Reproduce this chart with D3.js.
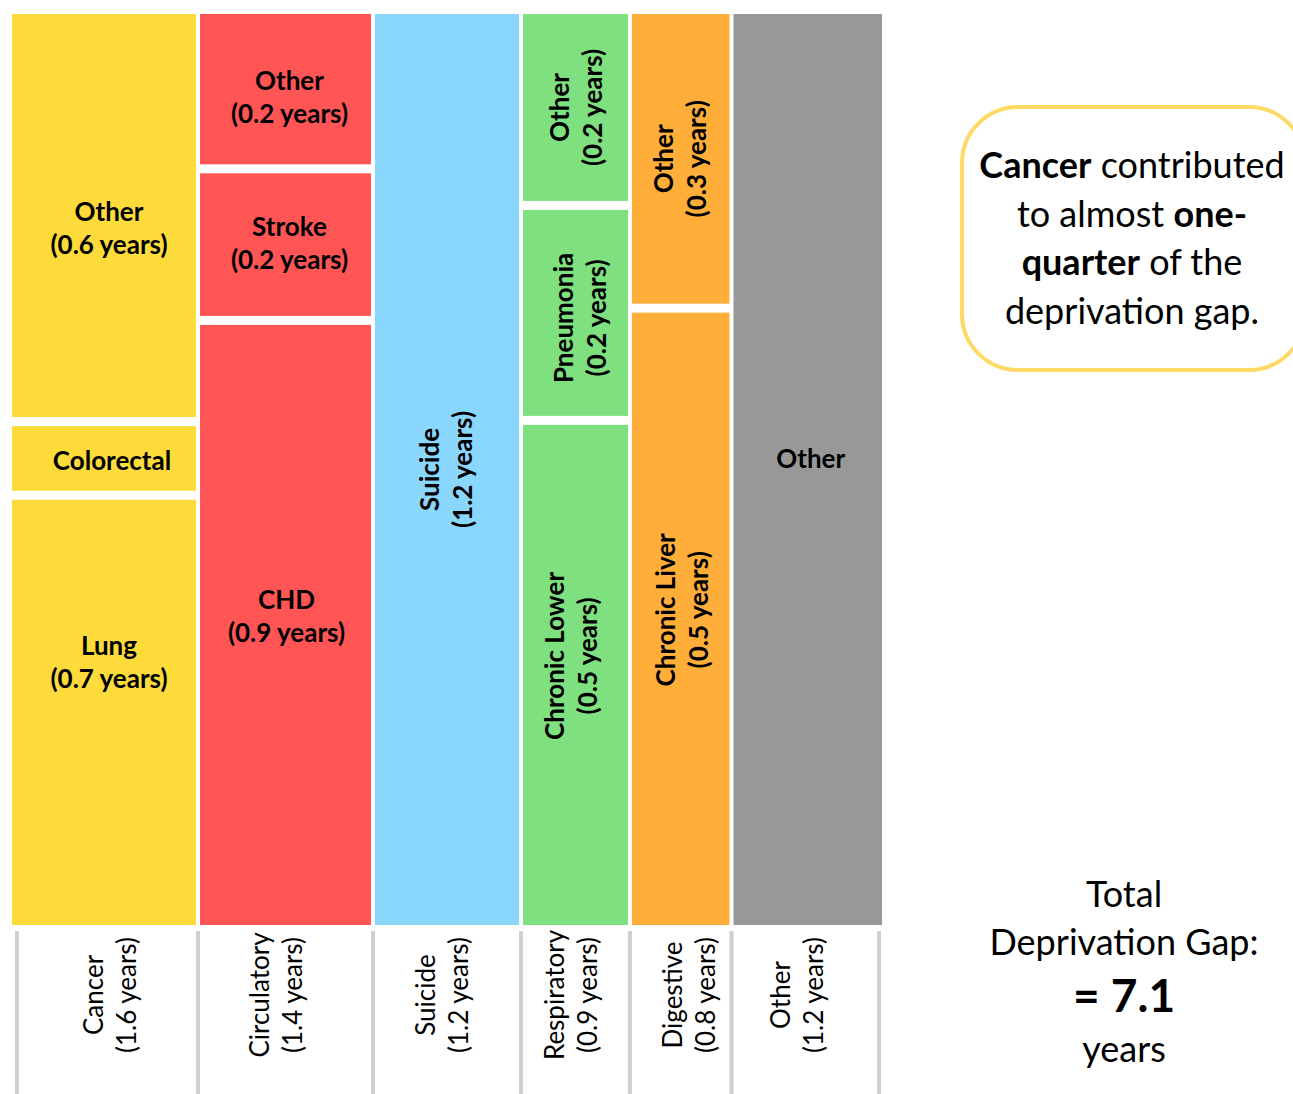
<!DOCTYPE html>
<html><head><meta charset="utf-8">
<script src="https://cdn.jsdelivr.net/npm/d3@7"></script>
<style>
body{margin:0;background:#fff;}
svg{display:block;font-family:Lato,'Open Sans',sans-serif;}
</style>
</head><body>
<svg id="chart" width="1293" height="1094"></svg>
<script>
// ---------------- DATA ----------------
const categories = ["Cancer","Circulatory","Suicide","Respiratory","Digestive","Other"];
// column widths (years)
const categoryValues = [1.52, 1.43, 1.21, 0.89, 0.83, 1.23];
const categoryLabels = ["(1.6 years)","(1.4 years)","(1.2 years)","(0.9 years)","(0.8 years)","(1.2 years)"];
const categoryColors = ["#FDDB3A","#FF5555","#8AD7FE","#7EE07E","#FFAE3A","#989898"];

// sub-segments, listed top to bottom within each column
const segCategory = ["Cancer","Cancer","Cancer","Circulatory","Circulatory","Circulatory","Suicide","Respiratory","Respiratory","Respiratory","Digestive","Digestive","Other"];
const segNames    = ["Other","Colorectal","Lung","Other","Stroke","CHD","Suicide","Other","Pneumonia","Chronic Lower","Other","Chronic Liver","Other"];
const segValues   = [0.680, 0.123, 0.717, 0.243, 0.238, 0.949, 1.21, 0.187, 0.210, 0.493, 0.268, 0.562, 1.23];
const segLabels   = ["(0.6 years)","","(0.7 years)","(0.2 years)","(0.2 years)","(0.9 years)","(1.2 years)","(0.2 years)","(0.2 years)","(0.5 years)","(0.3 years)","(0.5 years)",""];

const totalGapLabel = "7.1";

// ---------------- LAYOUT ----------------
const svg = d3.select("#chart");
const plotLeft = 12, plotRight = 882, plotTop = 14, plotBottom = 925;
const colGap = 4, segGap = 9;
const rotatedCols = new Set(["Suicide","Respiratory","Digestive"]);
// small label nudges (px) to follow the original placement
const labelNudgeY = [12, 2, -51, 7, -2, -9, 0, 0, 5, -19, 0, -9, -12];
const labelNudgeX = [5, 8, 5, 4, 4, 1, -2, 0, 4, -5, -1, 1, 3];
const axisNudgeX = [6, -10, -6, -5, 8, -11];
const lineH = 33;
const labelFont = 26;

const total = d3.sum(categoryValues);
const x = d3.scaleLinear().domain([0, total]).range([plotLeft, plotRight]);

const cols = [];
let cum = 0;
categories.forEach((c, i) => {
  const x0 = x(cum), x1 = x(cum + categoryValues[i]);
  cols.push({name: c, i, x0, x1,
    left: x0 + (i > 0 ? colGap/2 : 0),
    right: x1 - (i < categories.length - 1 ? colGap/2 : 0),
    color: categoryColors[i]});
  cum += categoryValues[i];
});

// segments
const segs = [];
categories.forEach((c, ci) => {
  const idx = segCategory.map((s, k) => s === c ? k : -1).filter(k => k >= 0);
  const colTotal = d3.sum(idx, k => segValues[k]);
  const y = d3.scaleLinear().domain([0, colTotal]).range([plotTop, plotBottom]);
  let acc = 0;
  idx.forEach((k, j) => {
    const top = y(acc) + (j > 0 ? segGap/2 : 0);
    const bottom = y(acc + segValues[k]) - (j < idx.length - 1 ? segGap/2 : 0);
    segs.push({k, col: cols[ci], top, bottom});
    acc += segValues[k];
  });
});

svg.append("g").selectAll("rect").data(segs).join("rect")
  .attr("x", d => d.col.left)
  .attr("y", d => d.top)
  .attr("width", d => d.col.right - d.col.left)
  .attr("height", d => d.bottom - d.top)
  .attr("fill", d => d.col.color);

function twoLine(g, l1, l2, size, weight) {
  const t = g.append("text")
    .attr("text-anchor", "middle")
    .attr("font-size", size)
    .attr("font-weight", weight)
    .attr("fill", "#000");
  if (l2) {
    t.append("tspan").attr("x", 0).attr("y", -lineH/2).attr("dominant-baseline", "central").text(l1);
    t.append("tspan").attr("x", 0).attr("y", lineH/2).attr("dominant-baseline", "central").text(l2);
  } else {
    t.append("tspan").attr("x", 0).attr("y", 0).attr("dominant-baseline", "central").text(l1);
  }
  return t;
}

const segLabelG = svg.append("g");
segs.forEach(d => {
  const k = d.k;
  const cx = (d.col.left + d.col.right)/2 + labelNudgeX[k];
  const cy = (d.top + d.bottom)/2 + labelNudgeY[k];
  const rot = rotatedCols.has(segCategory[k]);
  const g = segLabelG.append("g")
    .attr("transform", `translate(${cx},${cy})` + (rot ? " rotate(-90)" : ""));
  twoLine(g, segNames[k], segLabels[k], labelFont, 700);
});

// bottom category axis
const axisTop = 931, axisBottom = 1094;
const sepXs = [plotLeft + 5];
cols.forEach((c, i) => { if (i < cols.length - 1) sepXs.push((c.right + cols[i+1].left)/2); });
sepXs.push(plotRight - 3);
svg.append("g").selectAll("rect").data(sepXs).join("rect")
  .attr("x", d => d - 2).attr("y", axisTop)
  .attr("width", 4).attr("height", axisBottom - axisTop)
  .attr("fill", "#D0CECE");

const axisLabelG = svg.append("g");
cols.forEach((c, i) => {
  const g = axisLabelG.append("g")
    .attr("transform", `translate(${(c.left + c.right)/2 + axisNudgeX[i]},995) rotate(-90)`);
  twoLine(g, categories[i], categoryLabels[i], labelFont, 400);
});

// callout box
const box = {x: 962, y: 107, w: 343, h: 263, r: 56};
svg.append("rect")
  .attr("x", box.x).attr("y", box.y).attr("width", box.w).attr("height", box.h)
  .attr("rx", box.r).attr("ry", box.r)
  .attr("fill", "#fff").attr("stroke", "#FFD966").attr("stroke-width", 4);

const calloutLines = [
  [["Cancer", 700], [" contributed", 400]],
  [["to almost ", 400], ["one-", 700]],
  [["quarter", 700], [" of the", 400]],
  [["deprivation gap.", 400]]
];
calloutLines.forEach((line, li) => {
  const t = svg.append("text")
    .attr("text-anchor", "middle")
    .attr("font-size", 36)
    .attr("fill", "#000")
    .attr("x", 1132).attr("y", 178 + li * 48.5)
    .attr("xml:space", "preserve");
  line.forEach(part => t.append("tspan").attr("font-weight", part[1]).text(part[0]));
});

// total text
const totalG = svg.append("g").attr("text-anchor", "middle").attr("fill", "#000");
totalG.append("text").attr("x", 1124).attr("y", 907).attr("font-size", 36).text("Total");
totalG.append("text").attr("x", 1124).attr("y", 955).attr("font-size", 36).text("Deprivation Gap:");
totalG.append("text").attr("x", 1124).attr("y", 1012).attr("font-size", 46).attr("font-weight", 700).text("= " + totalGapLabel);
totalG.append("text").attr("x", 1124).attr("y", 1062).attr("font-size", 36).text("years");
</script>
</body></html>
